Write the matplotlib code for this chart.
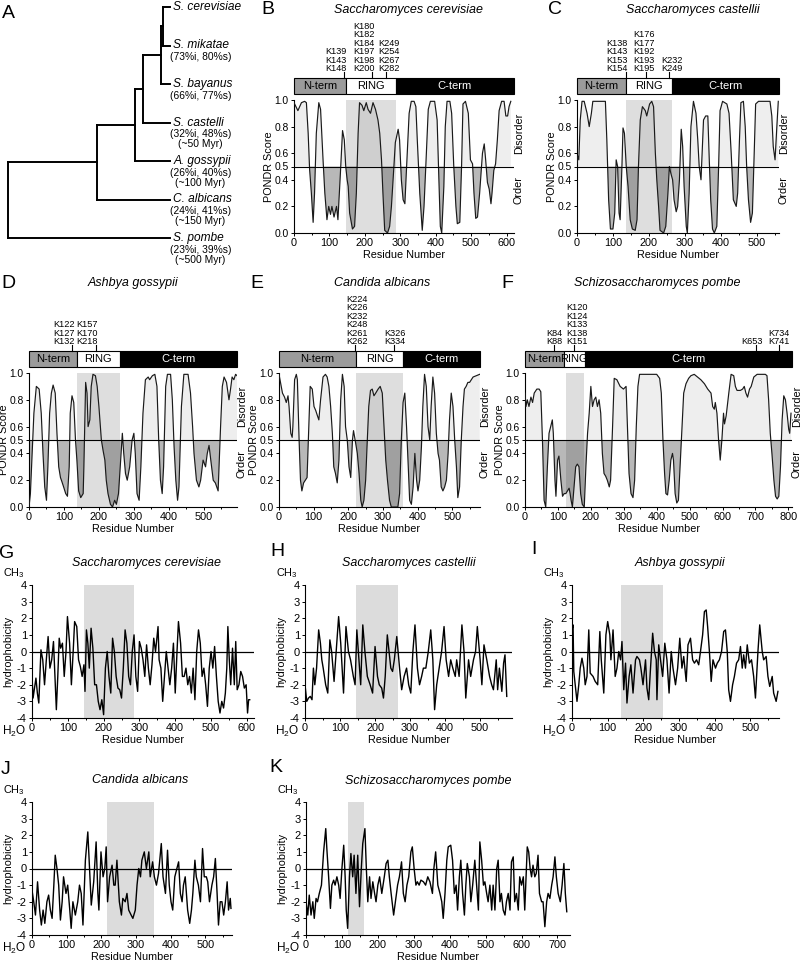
import matplotlib
matplotlib.use('Agg')
import matplotlib.pyplot as plt
from matplotlib.patches import Rectangle
from matplotlib.ticker import MultipleLocator, FormatStrFormatter
import numpy as np

plt.rcParams['font.family'] = ['Liberation Sans', 'DejaVu Sans']
plt.rcParams['mathtext.fontset'] = 'custom'
plt.rcParams['mathtext.rm'] = 'Liberation Sans'
plt.rcParams['mathtext.it'] = 'Liberation Sans:italic'
plt.rcParams['axes.unicode_minus'] = False

# ---------------- data ----------------
# panel A: species tree (leaf order top to bottom)
species = ['S. cerevisiae', 'S. mikatae', 'S. bayanus', 'S. castelli',
           'A. gossypii', 'C. albicans', 'S. pombe']
identity = ['', '(73%i, 80%s)', '(66%i, 77%s)', '(32%i, 48%s)',
            '(26%i, 40%s)', '(24%i, 41%s)', '(23%i, 39%s)']
divergence = ['', '', '', '(~50 Myr)', '(~100 Myr)', '(~150 Myr)', '(~500 Myr)']
tree = ((((((0, 1), 2), 3), 4), 5), 6)
node_depth = [0.0, 0.549, 0.784, 0.833, 0.944, 0.957]   # root -> innermost node

# PONDR disorder profiles (residue, score)
sc_pondr = [(0, .98), (11, .92), (21, .98), (30, .99), (35, .98), (40, .75), (44, .48), (49, .30),
            (54, .08), (58, .30), (63, .75), (70, .98), (75, .93), (82, .55), (87, .30), (93, .10),
            (98, .20), (103, .14), (107, .20), (113, .12), (120, .20), (124, .10), (131, .45),
            (137, .77), (142, .70), (146, .50), (150, .40), (153, .35), (157, .15), (165, .03),
            (171, .05), (176, .30), (181, .75), (185, .98), (192, .96), (197, .92), (204, .98),
            (209, .93), (216, .90), (223, .98), (230, .93), (237, .85), (242, .75), (247, .55),
            (251, .30), (256, .02), (264, .00), (270, .05), (275, .20), (282, .50), (286, .68),
            (294, .78), (298, .70), (303, .40), (308, .25), (313, .22), (317, .45), (325, .90),
            (331, .99), (339, .99), (344, .95), (348, .70), (355, .30), (362, .02), (367, .20),
            (372, .50), (379, .93), (385, .99), (397, .99), (404, .85), (409, .40), (413, .05),
            (417, .00), (423, .35), (427, .80), (432, .99), (440, .99), (445, .90), (451, .50),
            (457, .20), (461, .07), (468, .08), (473, .50), (477, .97), (484, .99), (492, .90),
            (498, .55), (504, .52), (508, .30), (513, .11), (518, .12), (524, .30), (532, .60),
            (537, .67), (541, .55), (546, .38), (551, .33), (556, .22), (559, .30), (564, .47),
            (569, .52), (574, .70), (579, .92), (586, .99), (593, .99), (598, .88), (603, .88),
            (607, .95), (612, .99)]
cs_pondr = [(0, .52), (2, .58), (5, .55), (9, .85), (14, .99), (20, .99), (28, .90), (34, .80),
            (40, .90), (44, .99), (56, .99), (79, .99), (83, .70), (88, .25), (93, .03), (100, .03),
            (105, .15), (109, .55), (113, .50), (117, .15), (120, .10), (125, .50), (128, .79),
            (132, .75), (137, .50), (142, .35), (148, .10), (154, .03), (162, .02), (167, .10),
            (171, .50), (176, .85), (182, .95), (190, .92), (194, .88), (202, .97), (208, .99),
            (213, .95), (218, .60), (222, .40), (227, .20), (231, .02), (241, .00), (247, .05),
            (253, .30), (257, .50), (261, .45), (266, .40), (270, .25), (276, .16), (280, .20),
            (285, .40), (290, .78), (294, .65), (298, .35), (304, .05), (307, .00), (312, .30),
            (317, .80), (324, .99), (331, .90), (336, .70), (340, .50), (345, .40), (352, .85),
            (358, .88), (364, .88), (368, .55), (372, .25), (377, .03), (382, .00), (389, .05),
            (394, .50), (398, .92), (405, .99), (417, .97), (423, .90), (429, .60), (435, .25),
            (443, .20), (447, .30), (452, .70), (456, .98), (463, .99), (468, .80), (472, .50),
            (477, .25), (483, .08), (488, .15), (493, .60), (497, .97), (505, .99), (537, .99),
            (542, .88), (546, .65), (551, .55), (556, .80), (560, .99)]
ag_pondr = [(0, .00), (4, .10), (9, .40), (14, .70), (21, .90), (29, .88), (35, .70), (40, .40),
            (45, .15), (50, .05), (54, .30), (59, .70), (64, .85), (69, .91), (75, .85), (80, .55),
            (85, .30), (90, .22), (94, .19), (99, .15), (105, .10), (110, .08), (115, .30),
            (118, .70), (123, .83), (128, .78), (133, .50), (137, .35), (142, .12), (148, .07),
            (155, .10), (157, .30), (162, .93), (166, .85), (169, .60), (174, .65), (178, .90),
            (183, .99), (190, .98), (195, .90), (200, .75), (207, .50), (212, .42), (217, .35),
            (221, .20), (226, .10), (233, .02), (239, .00), (245, .05), (250, .02), (256, .10),
            (261, .30), (267, .55), (271, .40), (276, .25), (281, .20), (288, .30), (295, .50),
            (300, .55), (304, .40), (309, .10), (315, .05), (320, .30), (326, .70), (333, .95),
            (341, .97), (345, .95), (353, .98), (360, .99), (366, .90), (371, .50), (376, .20),
            (381, .10), (385, .30), (391, .90), (396, .99), (405, .99), (410, .80), (415, .45),
            (420, .20), (425, .05), (429, .15), (436, .75), (443, .99), (455, .99), (462, .85),
            (468, .60), (472, .40), (479, .20), (486, .15), (491, .20), (498, .35), (505, .30),
            (510, .40), (515, .46), (520, .35), (527, .20), (533, .18), (541, .12), (548, .60),
            (553, .90), (558, .97), (565, .93), (572, .80), (576, .87), (581, .97), (586, .95),
            (591, .99), (595, .98)]
ca_pondr = [(0, .99), (5, .92), (10, .85), (16, .82), (21, .78), (26, .83), (29, .75), (34, .55),
            (38, .52), (40, .60), (45, .95), (50, .99), (53, .95), (58, .50), (62, .20), (66, .12),
            (71, .18), (76, .20), (81, .22), (86, .60), (90, .90), (96, .88), (101, .75), (106, .72),
            (111, .68), (115, .65), (120, .80), (127, .97), (134, .99), (139, .97), (144, .90),
            (149, .75), (154, .55), (158, .30), (163, .25), (168, .18), (173, .35), (178, .80),
            (183, .99), (188, .90), (192, .60), (197, .50), (202, .30), (207, .22), (212, .50),
            (215, .57), (221, .48), (226, .40), (231, .25), (236, .05), (240, .00), (245, .05),
            (250, .20), (254, .45), (259, .75), (264, .87), (269, .88), (274, .83), (279, .85),
            (286, .88), (292, .90), (298, .85), (303, .60), (308, .35), (313, .20), (319, .05),
            (324, .00), (343, .00), (348, .10), (353, .50), (358, .78), (363, .85), (368, .60),
            (373, .30), (377, .05), (382, .02), (387, .15), (392, .40), (397, .20), (401, .12),
            (406, .20), (411, .45), (415, .75), (420, .99), (425, .90), (430, .60), (435, .50),
            (439, .75), (444, .97), (449, .85), (454, .55), (459, .40), (463, .35), (468, .15),
            (473, .12), (478, .15), (483, .20), (488, .40), (492, .65), (497, .85), (502, .75),
            (507, .50), (512, .30), (516, .07), (521, .15), (526, .50), (531, .75), (535, .88),
            (540, .90), (545, .93), (550, .93), (560, .97), (579, .99)]
sp_pondr = [(0, .85), (3, .75), (7, .80), (12, .75), (18, .82), (23, .78), (28, .85), (36, .88),
            (43, .88), (48, .86), (53, .50), (58, .05), (63, .00), (68, .30), (73, .55), (78, .60),
            (83, .65), (86, .55), (91, .20), (94, .08), (99, .35), (103, .38), (109, .20),
            (114, .08), (119, .10), (124, .10), (129, .12), (134, .14), (137, .10), (140, .05),
            (144, .00), (149, .15), (154, .30), (159, .32), (164, .30), (169, .10), (174, .02),
            (180, .00), (185, .30), (190, .55), (195, .70), (200, .90), (205, .75), (210, .80),
            (215, .82), (220, .75), (225, .80), (230, .70), (235, .40), (240, .25), (245, .23),
            (250, .20), (256, .15), (260, .20), (266, .60), (271, .96), (279, .95), (289, .90),
            (299, .88), (307, .90), (311, .60), (316, .25), (322, .10), (328, .07), (333, .20),
            (338, .60), (343, .90), (348, .99), (400, .99), (409, .96), (414, .85), (419, .50),
            (424, .25), (428, .10), (433, .09), (438, .20), (443, .35), (448, .40), (451, .35),
            (456, .10), (461, .03), (466, .05), (471, .30), (477, .60), (482, .85), (489, .92),
            (497, .96), (504, .98), (514, .99), (524, .97), (534, .95), (545, .92), (555, .88),
            (565, .85), (570, .75), (575, .73), (578, .78), (583, .70), (588, .50), (593, .35),
            (598, .50), (603, .70), (606, .62), (611, .68), (619, .85), (626, .99), (634, .98),
            (639, .90), (644, .87), (654, .87), (661, .88), (666, .90), (671, .85), (676, .82),
            (682, .88), (687, .90), (695, .97), (705, .99), (730, .99), (735, .98), (740, .80),
            (745, .55), (750, .40), (756, .20), (761, .08), (766, .06), (771, .08), (776, .30),
            (781, .65), (786, .83), (791, .80), (796, .70), (801, .58), (804, .55), (808, .70)]

# RING domain bounds used for the domain bar (residues)
sc_ring = (147, 287)
cs_ring = (136, 263)
ag_ring = (136, 261)
ca_ring = (223, 357)
sp_ring = (117, 183)
sp_ring_shade = (125, 180)

# lysine sites, grouped as drawn above the domain bars, with their tick residue
sc_sites = [['K139', 'K143', 'K148'], ['K180', 'K182', 'K184', 'K197', 'K198', 'K200'],
            ['K249', 'K254', 'K267', 'K282']]
sc_site_ticks = [141, 220, 261]
cs_sites = [['K138', 'K143', 'K153', 'K154'], ['K176', 'K177', 'K192', 'K193', 'K195'],
            ['K232', 'K249']]
cs_site_ticks = [135, 192, 257]
ag_sites = [['K122', 'K127', 'K132'], ['K157', 'K170', 'K218']]
ag_site_ticks = [124, 191]
ca_sites = [['K224', 'K226', 'K232', 'K248', 'K261', 'K262'], ['K326', 'K334']]
ca_site_ticks = [220, 332]
sp_sites = [['K84', 'K88'], ['K120', 'K124', 'K133', 'K138', 'K151'], ['K653'], ['K734', 'K741']]
sp_site_ticks = [89, 150, 702, 771]

# hydrophobicity profiles (residue, value)
sc_hyd = [(0, -1.5), (3, -2.8), (7, -2.2), (11, -1.6), (15, -2.5), (19, -3.1), (25, 0.1), (30, -0.5),
          (35, -2.0), (40, -0.5), (45, 0.9), (50, -1.0), (55, -0.5), (60, 0.6), (65, -2.0), (68, -3.5),
          (72, -1.5), (76, 0.8), (80, 0.2), (85, 0.5), (90, -1.5), (95, 0.0), (99, 2.1), (105, 0.5),
          (110, -2.0), (115, 0.0), (119, 1.8), (125, 1.5), (130, -0.5), (135, -0.9), (140, -1.5),
          (145, -0.8), (148, -2.4), (152, 1.3), (156, 0.5), (160, -1.0), (165, 1.4), (170, 0.2),
          (175, -2.0), (180, -2.0), (185, -3.0), (190, -3.5), (195, -2.9), (200, -3.8), (205, -1.0),
          (210, 0.0), (215, -1.5), (220, -2.5), (225, 0.8), (230, 0.0), (235, -1.5), (240, -2.2),
          (245, -2.3), (250, -2.8), (255, -1.0), (260, 1.3), (265, 0.5), (270, -1.5), (275, -2.0),
          (280, 0.0), (285, 1.0), (290, -1.5), (295, -2.4), (300, 0.6), (305, 0.2), (310, -0.5),
          (315, -1.5), (320, 0.4), (325, -1.0), (330, -2.0), (335, -0.8), (340, 0.8), (345, 0.0),
          (352, 1.5), (355, -0.5), (360, -1.0), (365, -3.0), (370, -1.5), (375, 0.0), (380, -1.0),
          (385, -2.0), (390, -1.0), (395, 0.5), (400, -2.5), (405, 0.0), (409, 1.8), (415, 0.5),
          (420, -1.5), (425, -1.5), (430, -1.0), (435, -2.0), (440, -1.5), (445, -2.5), (450, -1.0),
          (455, -2.9), (460, 0.0), (465, 1.3), (470, 0.5), (475, -1.5), (480, -1.0), (485, -2.0),
          (490, -3.3), (495, -1.0), (500, 0.0), (505, -1.0), (510, 0.3), (515, -1.5), (520, -3.0),
          (525, -3.7), (530, -3.0), (535, -3.4), (540, -2.5), (544, -1.0), (547, 1.5), (551, -0.5),
          (555, -2.0), (560, 0.2), (565, -2.0), (569, 0.6), (573, -2.3), (578, -2.0), (583, -1.2),
          (588, -1.5), (593, -2.2), (598, -2.0), (602, -3.7), (605, -2.9), (608, -2.9)]
cs_hyd = [(0, -2.0), (5, -3.0), (10, -2.8), (15, -2.7), (20, -2.9), (24, -1.0), (28, -2.0),
          (33, -1.0), (39, 1.3), (44, 0.5), (48, -0.5), (52, -1.0), (59, -2.0), (65, -2.5), (71, 0.7),
          (76, 0.0), (83, -1.8), (89, 0.0), (96, 2.1), (102, 0.5), (110, -2.5), (117, 1.5), (124, 0.0),
          (130, -0.5), (138, -1.5), (143, -2.0), (148, 1.3), (154, -0.5), (159, -2.0), (165, 1.6),
          (171, 0.0), (178, -1.5), (186, -2.0), (193, -2.5), (200, 0.3), (207, -1.5), (212, -2.0),
          (219, -2.2), (224, -2.8), (229, -1.5), (235, 1.0), (240, 0.0), (245, -1.0), (250, -1.2),
          (255, -0.5), (262, 0.9), (270, -1.0), (276, -2.3), (283, -1.5), (290, -1.0), (296, -2.0),
          (302, -2.5), (308, 0.0), (314, 1.6), (321, -1.0), (327, -2.0), (333, -1.5), (338, -1.0),
          (345, -1.0), (352, 0.0), (359, 1.3), (365, -0.5), (370, -3.5), (376, -2.0), (383, -1.0),
          (390, 0.0), (397, 1.5), (403, -0.5), (410, -1.5), (416, -0.5), (422, -1.0), (429, -1.5),
          (433, -0.5), (440, -1.5), (448, 1.6), (454, 0.0), (459, -2.8), (467, -0.5), (473, -1.5),
          (481, -0.5), (487, 0.0), (492, 1.5), (500, -0.5), (505, -2.0), (511, 0.4), (519, -0.5),
          (527, -1.5), (533, -2.0), (538, -2.3), (546, -0.5), (550, -2.3), (555, -1.0), (562, -2.4),
          (567, -0.7), (571, -0.2), (576, -2.7)]
ag_hyd = [(0, 1.3), (3, 1.6), (5, -1.2), (9, -2.0), (14, -3.0), (19, -2.0), (23, -1.0), (28, -0.4),
          (33, -1.0), (37, -2.0), (42, -1.5), (47, 1.3), (51, -1.3), (59, -1.5), (65, -1.8), (72, -2.0),
          (78, 1.2), (82, -0.5), (89, -2.5), (95, 1.0), (100, 1.8), (106, 1.0), (109, -0.5), (115, 1.3),
          (121, -1.5), (126, -1.0), (131, 0.0), (136, -0.5), (140, 0.6), (145, -2.3), (150, -0.7),
          (154, -3.1), (160, -1.5), (165, -0.8), (171, -2.5), (178, -0.5), (182, -0.3), (189, -0.5),
          (193, -1.0), (199, -2.0), (206, -0.5), (210, -2.2), (215, -2.9), (220, -1.0), (226, 1.1),
          (231, 0.0), (236, -0.5), (238, -2.9), (243, 0.4), (248, -0.5), (254, -1.5), (260, 0.5),
          (266, -0.5), (272, -2.5), (278, 0.0), (283, -1.0), (290, -2.0), (296, -1.0), (302, 0.8),
          (308, -1.0), (313, -0.3), (320, -1.8), (325, 0.4), (332, 0.8), (338, -0.5), (343, -0.7),
          (349, -0.5), (355, -0.8), (360, 0.0), (366, 1.0), (371, 2.4), (376, 2.5), (380, 1.5),
          (385, 0.0), (390, -1.8), (395, -0.5), (402, -1.0), (407, -0.7), (413, -0.5), (419, 0.0),
          (425, 1.2), (430, 1.3), (435, 0.0), (439, -2.3), (444, -3.0), (450, -2.0), (455, -1.5),
          (461, -0.7), (467, -0.5), (472, 0.3), (477, -1.0), (481, -0.2), (486, -1.0), (491, 0.4),
          (497, -0.7), (503, -0.5), (509, -1.5), (514, -2.8), (521, 0.0), (526, 1.6), (533, 0.0),
          (537, -0.5), (544, -0.3), (549, -1.5), (554, -2.1), (561, -1.5), (565, -2.5), (572, -3.0),
          (577, -2.4)]
ca_hyd = [(0, -1.3), (5, -2.0), (10, -2.8), (16, -0.8), (22, -2.5), (27, -3.4), (32, -2.5), (37, -3.3),
          (43, -2.0), (48, -1.6), (53, -2.5), (58, -3.0), (63, -1.0), (67, 0.8), (72, 0.0), (77, -1.0),
          (82, -3.1), (87, -2.0), (91, -0.5), (98, -1.5), (103, -1.0), (109, -2.5), (113, -3.6),
          (118, -2.0), (125, -2.8), (132, -2.0), (137, -1.0), (142, -1.5), (147, -3.4), (154, 0.5),
          (161, 2.2), (166, 0.0), (171, -2.2), (178, -0.8), (185, 1.6), (190, -1.5), (193, -2.5),
          (199, 1.0), (205, -0.5), (210, 0.0), (214, 1.3), (218, -2.0), (224, -0.5), (231, 0.2),
          (236, -1.0), (240, -1.0), (245, 0.5), (252, -2.0), (258, -2.8), (262, -1.8), (269, -2.0),
          (274, -1.5), (279, -2.5), (286, -2.8), (291, -3.0), (298, -2.5), (303, -1.0), (308, 0.0),
          (313, -0.5), (317, 0.5), (324, 1.0), (330, 0.0), (337, 1.0), (341, -0.5), (348, 0.4),
          (353, -0.5), (359, -1.0), (365, -0.3), (373, 1.5), (378, -0.5), (385, -1.5), (391, 1.1),
          (396, -1.0), (401, -2.0), (406, -2.5), (412, -0.5), (418, 0.0), (423, 0.4), (428, -1.5),
          (433, -2.0), (437, -1.0), (442, -0.5), (449, -2.5), (455, -3.3), (460, -2.5), (464, -1.5),
          (470, 0.5), (474, -0.5), (480, -1.0), (486, -2.0), (492, 1.2), (497, -0.5), (503, -0.5),
          (507, -0.8), (512, -2.0), (519, -1.0), (524, -0.5), (529, 0.6), (534, -1.5), (538, -3.4),
          (543, -2.0), (548, -2.0), (553, -2.8), (558, -2.0), (563, -0.8), (567, -2.5), (572, -1.8),
          (574, -2.4)]
sp_hyd = [(0, -2.0), (5, -2.8), (9, -1.6), (14, -2.8), (19, -2.0), (23, -3.0), (28, -1.8), (32, -2.0),
          (37, -1.5), (43, -1.0), (49, 1.0), (55, 2.4), (58, 1.2), (63, -0.5), (68, -2.4), (72, -1.0),
          (77, -0.7), (81, -1.0), (86, -0.5), (91, -1.0), (95, -1.8), (100, 0.0), (105, 1.4),
          (109, -0.5), (112, -2.5), (116, -3.6), (121, -0.5), (125, 0.9), (130, -0.5), (134, 0.8),
          (139, -1.5), (144, 0.8), (149, -2.3), (154, 0.0), (158, 1.5), (164, 2.4), (168, 0.0),
          (172, -2.0), (177, -0.5), (181, -1.8), (186, -0.8), (191, -1.5), (195, -2.0), (200, -1.0),
          (205, -0.5), (211, -1.5), (218, -0.5), (223, 0.3), (228, 0.5), (232, -0.5), (237, -1.5),
          (244, -2.8), (249, -2.0), (255, -1.0), (260, -0.5), (266, 0.4), (271, -1.5), (276, -2.0),
          (281, -1.0), (286, -0.5), (292, 1.0), (296, 1.3), (301, 0.0), (306, -1.0), (310, -0.8),
          (315, -1.0), (320, -0.7), (327, -0.8), (333, -1.0), (339, -0.5), (345, -0.8), (352, -1.5),
          (356, 0.0), (361, 1.0), (367, -1.0), (373, -1.5), (378, -2.0), (382, -3.0), (387, -1.5),
          (392, 0.5), (396, 1.3), (403, 1.4), (408, 0.5), (413, -1.5), (418, -1.0), (422, -2.5),
          (427, -0.5), (431, 0.5), (436, -1.5), (441, -2.8), (445, -1.0), (449, 0.3), (455, -0.5),
          (459, -2.0), (464, -1.0), (470, 0.5), (475, -1.0), (480, -2.5), (484, 1.6), (489, 0.5),
          (494, -1.0), (498, -0.8), (503, -1.5), (507, -2.0), (512, -1.0), (517, -2.5), (521, -1.0),
          (526, -2.5), (531, 0.0), (535, 0.5), (540, -2.0), (544, -1.5), (549, -2.5), (554, -2.8),
          (558, -2.0), (563, -1.5), (568, -2.5), (572, 0.4), (577, 0.7), (581, -2.0), (586, -1.5),
          (591, -2.5), (595, -0.5), (600, -1.0), (605, -0.5), (609, -2.5), (616, 1.3), (620, 1.0),
          (624, 0.0), (628, -0.5), (632, 0.2), (637, -0.5), (641, -0.3), (646, 0.8), (650, -1.5),
          (656, -2.0), (660, -2.0), (665, -3.5), (670, -2.0), (674, -1.5), (679, -1.8), (684, -1.0),
          (688, -0.5), (693, 0.7), (697, -0.5), (702, -1.5), (708, -2.0), (713, -1.0), (718, 0.3),
          (722, -1.5), (726, -2.6)]

# shaded RING region in the hydrophobicity plots
sc_hyd_shade = (144, 286)
cs_hyd_shade = (146, 266)
ag_hyd_shade = (137, 255)
ca_hyd_shade = (216, 352)
sp_hyd_shade = (116, 162)

# ---------------- layout (pixels of the 800x960 figure) ----------------
W, H = 800, 960
fig = plt.figure(figsize=(8, 9.6), dpi=100)


def rect(x0, y0, x1, y1):
    return [x0 / W, 1 - y1 / H, (x1 - x0) / W, (y1 - y0) / H]


def ftext(x, y, s, **kw):
    kw.setdefault('ha', 'center')
    kw.setdefault('va', 'center')
    fig.text(x / W, 1 - y / H, s, **kw)


def style(ax):
    for s in ('top', 'right'):
        ax.spines[s].set_visible(False)
    for s in ('left', 'bottom'):
        ax.spines[s].set_linewidth(0.8)
    ax.tick_params(which='both', direction='out', width=0.7, labelsize=7.8, pad=1.2)
    ax.tick_params(which='major', length=2.5)
    ax.tick_params(which='minor', length=1.5)
    ax.xaxis.set_major_locator(MultipleLocator(100))
    ax.xaxis.set_minor_locator(MultipleLocator(50))


# ---- panel A: tree ----
axA = fig.add_axes(rect(0, 0, 240, 270))
axA.set_xlim(-8 / 162, 232 / 162)
axA.set_ylim((270 - 7) / 38.5, -7 / 38.5)
axA.axis('off')


def draw_clade(node, level):
    if isinstance(node, int):
        return 1.0, float(node)
    x = node_depth[level]
    ys = []
    for child in node:
        cx, cy = draw_clade(child, level + 1)
        axA.plot([x, cx], [cy, cy], color='black', lw=1.4, solid_capstyle='projecting')
        ys.append(cy)
    axA.plot([x, x], [min(ys), max(ys)], color='black', lw=1.4, solid_capstyle='projecting')
    return x, np.mean(ys)


draw_clade(tree, 0)
for i, name in enumerate(species):
    axA.annotate(name, xy=(1.0, i), xytext=(2.5, 0), textcoords='offset points',
                 ha='left', va='center', fontsize=8.6, style='italic')
    subs = '\n'.join(s for s in (identity[i], divergence[i]) if s)
    if subs:
        axA.annotate(subs, xy=(1.0, i), xytext=(22, -4.8), textcoords='offset points',
                     ha='center', va='top', fontsize=7.4, linespacing=1.0)
ftext(8, 13, 'A', fontsize=14)

# ---- PONDR panels B-F ----
pondr_panels = [
    dict(letter='B', title='Saccharomyces cerevisiae', prof=sc_pondr, ring=sc_ring, shade=sc_ring,
         sites=sc_sites, ticks=sc_site_ticks, label_x=[117, 197, 269],
         box=(294, 100, 514, 233), xmax=621, letter_xy=(268, 10), title_xy=(409, 10)),
    dict(letter='C', title='Saccharomyces castellii', prof=cs_pondr, ring=cs_ring, shade=cs_ring,
         sites=cs_sites, ticks=cs_site_ticks, label_x=[111, 186, 265],
         box=(577, 100, 779, 233), xmax=562, letter_xy=(555, 10), title_xy=(693, 10)),
    dict(letter='D', title='Ashbya gossypii', prof=ag_pondr, ring=ag_ring, shade=ag_ring,
         sites=ag_sites, ticks=ag_site_ticks, label_x=[100, 166],
         box=(29, 373, 237, 507), xmax=595, letter_xy=(8, 283), title_xy=(133, 283)),
    dict(letter='E', title='Candida albicans', prof=ca_pondr, ring=ca_ring, shade=ca_ring,
         sites=ca_sites, ticks=ca_site_ticks, label_x=[225, 334],
         box=(279, 373, 480, 507), xmax=580, letter_xy=(257, 283), title_xy=(382, 283)),
    dict(letter='F', title='Schizosaccharomyces pombe', prof=sp_pondr, ring=sp_ring, shade=sp_ring_shade,
         sites=sp_sites, ticks=sp_site_ticks, label_x=[89, 159, 690, 772],
         box=(525, 373, 792, 507), xmax=811, letter_xy=(507, 283), title_xy=(657, 283)),
]

for p in pondr_panels:
    x0, y0, x1, y1 = p['box']
    xmax = p['xmax']
    ax = fig.add_axes(rect(x0, y0, x1, y1))
    res, sc = np.array(p['prof'], dtype=float).T
    ax.fill_between(res, sc, 0.5, where=sc >= 0.5, interpolate=True, color='#eeeeee', lw=0, zorder=1)
    ax.fill_between(res, sc, 0.5, where=sc <= 0.5, interpolate=True, color='#b8b8b8', lw=0, zorder=1)
    ax.axvspan(*p['shade'], color='black', alpha=0.13, lw=0, zorder=2)
    ax.plot(res, sc, color='#1a1a1a', lw=0.85, zorder=3)
    ax.axhline(0.5, color='black', lw=0.8, zorder=4)
    ax.set_xlim(0, xmax)
    ax.set_ylim(0, 1)
    ax.set_yticks([0, 0.2, 0.4, 0.5, 0.6, 0.8, 1.0])
    ax.yaxis.set_major_formatter(FormatStrFormatter('%.1f'))
    style(ax)
    ax.tick_params(axis='y', labelsize=7.4)
    ax.set_xlabel('Residue Number', fontsize=7.8, labelpad=1)
    ax.set_ylabel('PONDR Score', fontsize=7.8)
    ax.yaxis.set_label_coords(-20 / (x1 - x0), 0.5)
    ax.annotate('Disorder', xy=(1, 0.75), xycoords='axes fraction', xytext=(3.5, 0),
                textcoords='offset points', rotation=90, ha='center', va='center', fontsize=7.8)
    ax.annotate('Order', xy=(1, 0.32), xycoords='axes fraction', xytext=(3.5, 0),
                textcoords='offset points', rotation=90, ha='center', va='center', fontsize=7.8)

    # domain bar with lysine sites
    bx = fig.add_axes(rect(x0, y0 - 22, x1, y0 - 6))
    bx.set_xlim(0, xmax)
    bx.set_ylim(0, 1)
    bx.axis('off')
    n0, n1 = p['ring']
    bx.add_patch(Rectangle((0, 0), n0, 1, fc='#9b9b9b', ec='black', lw=0.8, clip_on=False, zorder=1))
    bx.add_patch(Rectangle((n0, 0), n1 - n0, 1, fc='white', ec='black', lw=0.8, clip_on=False, zorder=1))
    bx.add_patch(Rectangle((n1, 0), xmax - n1, 1, fc='black', ec='black', lw=0.8, clip_on=False, zorder=3))
    bx.text(n0 / 2, 0.5, 'N-term', ha='center', va='center', fontsize=8, zorder=2)
    bx.text((n0 + n1) / 2, 0.5, 'RING', ha='center', va='center', fontsize=8, zorder=2)
    bx.text((n1 + xmax) / 2, 0.5, 'C-term', ha='center', va='center', fontsize=8, color='white', zorder=4)
    for grp, t, lx in zip(p['sites'], p['ticks'], p['label_x']):
        bx.plot([t, t], [1, 1.4], color='black', lw=0.8, clip_on=False)
        bx.annotate('\n'.join(grp), xy=(lx, 1), xycoords=('data', 'axes fraction'),
                    xytext=(0, 3.6), textcoords='offset points', ha='center', va='bottom',
                    fontsize=6.6, linespacing=0.92)

    ftext(*p['letter_xy'], p['letter'], fontsize=14)
    ftext(*p['title_xy'], p['title'], fontsize=9, style='italic')

# ---- hydrophobicity panels G-K ----
hyd_panels = [
    dict(letter='G', title='Saccharomyces cerevisiae', prof=sc_hyd, shade=sc_hyd_shade,
         box=(32, 585, 254, 718), xmax=620, letter_xy=(7, 553), title_xy=(147, 563)),
    dict(letter='H', title='Saccharomyces castellii', prof=cs_hyd, shade=cs_hyd_shade,
         box=(305, 585, 512, 718), xmax=591, letter_xy=(277, 552), title_xy=(409, 563)),
    dict(letter='I', title='Ashbya gossypii', prof=ag_hyd, shade=ag_hyd_shade,
         box=(572, 585, 779, 718), xmax=580, letter_xy=(534, 550), title_xy=(680, 563)),
    dict(letter='J', title='Candida albicans', prof=ca_hyd, shade=ca_hyd_shade,
         box=(32, 802, 232, 935), xmax=577, letter_xy=(6, 770), title_xy=(140, 780)),
    dict(letter='K', title='Schizosaccharomyces pombe', prof=sp_hyd, shade=sp_hyd_shade,
         box=(306, 802, 570, 935), xmax=735, letter_xy=(276, 768), title_xy=(428, 781)),
]

for p in hyd_panels:
    x0, y0, x1, y1 = p['box']
    ax = fig.add_axes(rect(x0, y0, x1, y1))
    res, hv = np.array(p['prof'], dtype=float).T
    ax.axvspan(*p['shade'], color='#dcdcdc', lw=0, zorder=1)
    ax.axhline(0, color='black', lw=0.9, zorder=2)
    ax.plot(res, hv, color='black', lw=1.0, zorder=3)
    ax.set_xlim(0, p['xmax'])
    ax.set_ylim(-4, 4)
    style(ax)
    ax.yaxis.set_major_locator(MultipleLocator(1))
    ax.tick_params(axis='y', labelsize=8)
    ax.set_xlabel('Residue Number', fontsize=7.8, labelpad=1)
    ax.set_ylabel('hydrophobicity', fontsize=7.8)
    ax.yaxis.set_label_coords(-19 / (x1 - x0), 0.5)
    ftext(x0 - 18, y0 - 12, 'CH$_3$', fontsize=7.8)
    ftext(x0 - 30, y1 + 13, 'H$_2$O', fontsize=8.5, ha='left')
    ftext(*p['letter_xy'], p['letter'], fontsize=14)
    ftext(*p['title_xy'], p['title'], fontsize=9, style='italic')

fig.savefig('out.png', dpi=100, facecolor='white')
